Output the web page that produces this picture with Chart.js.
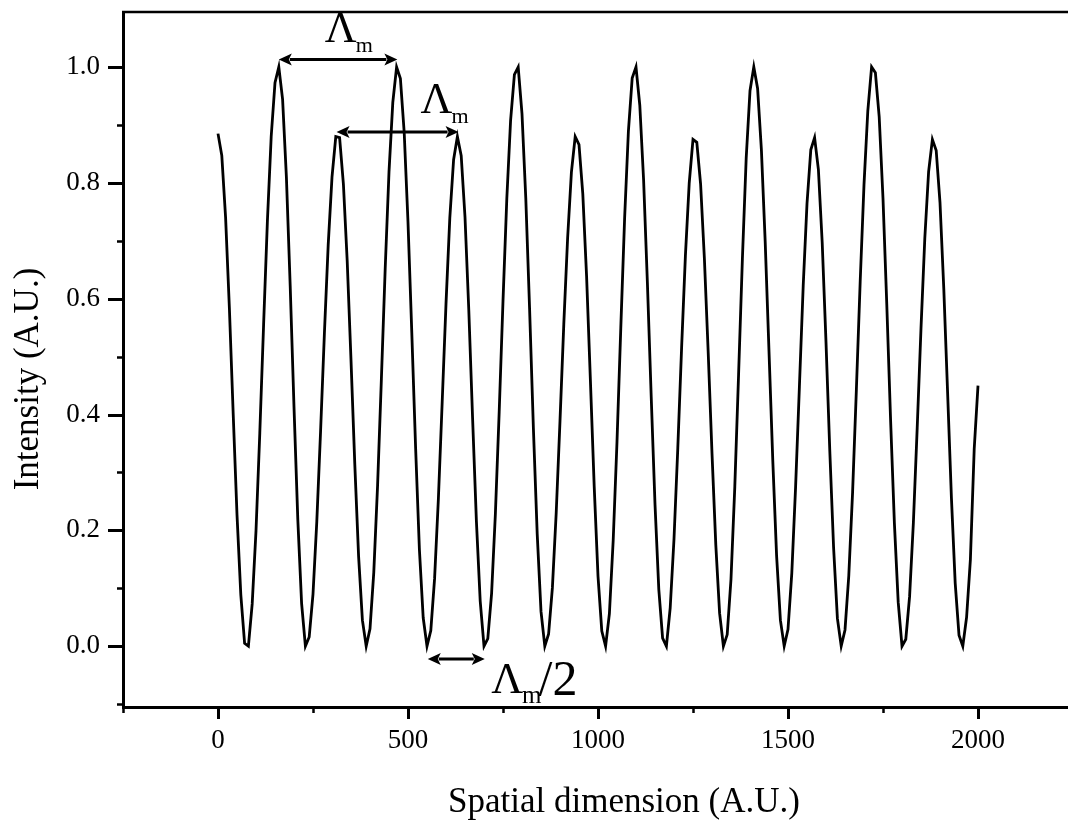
<!DOCTYPE html>
<html><head><meta charset="utf-8">
<script src="https://cdn.jsdelivr.net/npm/chart.js@4.4.1/dist/chart.umd.min.js"></script>
<style>
html,body{margin:0;padding:0;background:#fff;overflow:hidden;width:1068px;height:824px;}
canvas{display:block;}
</style></head><body>
<canvas id="c" width="1080" height="824" style="width:1080px;height:824px"></canvas>
<script>
// ---- data ----
const positions = [
0,10,20,30,40,50,60,70,80,90,100,110,120,130,140,150,160,170,180,190,
200,210,220,230,240,250,260,270,280,290,300,310,320,330,340,350,360,370,380,390,
400,410,420,430,440,450,460,470,480,490,500,510,520,530,540,550,560,570,580,590,
600,610,620,630,640,650,660,670,680,690,700,710,720,730,740,750,760,770,780,790,
800,810,820,830,840,850,860,870,880,890,900,910,920,930,940,950,960,970,980,990,
1000,1010,1020,1030,1040,1050,1060,1070,1080,1090,1100,1110,1120,1130,1140,1150,1160,1170,1180,1190,
1200,1210,1220,1230,1240,1250,1260,1270,1280,1290,1300,1310,1320,1330,1340,1350,1360,1370,1380,1390,
1400,1410,1420,1430,1440,1450,1460,1470,1480,1490,1500,1510,1520,1530,1540,1550,1560,1570,1580,1590,
1600,1610,1620,1630,1640,1650,1660,1670,1680,1690,1700,1710,1720,1730,1740,1750,1760,1770,1780,1790,
1800,1810,1820,1830,1840,1850,1860,1870,1880,1890,1900,1910,1920,1930,1940,1950,1960,1970,1980,1990,
2000];
const intensity = [
0.885,0.847,0.740,0.583,0.401,0.227,0.089,0.005,0.000,0.073,0.199,0.368,0.555,0.734,0.880,0.973,1.000,0.944,0.810,0.622,
0.413,0.219,0.074,0.000,0.016,0.090,0.215,0.372,0.540,0.693,0.810,0.880,0.878,0.798,0.665,0.494,0.314,0.155,0.045,0.000,
0.030,0.128,0.278,0.462,0.652,0.819,0.939,1.000,0.980,0.887,0.732,0.541,0.343,0.167,0.049,0.000,0.027,0.117,0.255,0.422,
0.591,0.739,0.840,0.880,0.847,0.741,0.580,0.393,0.216,0.078,0.000,0.013,0.091,0.229,0.405,0.596,0.772,0.908,0.987,1.000,
0.919,0.773,0.582,0.376,0.194,0.060,0.000,0.021,0.101,0.230,0.389,0.556,0.704,0.818,0.880,0.866,0.781,0.638,0.459,0.276,
0.121,0.026,0.000,0.056,0.183,0.353,0.550,0.738,0.889,0.981,1.000,0.934,0.805,0.627,0.431,0.245,0.098,0.014,0.000,0.066,
0.185,0.342,0.515,0.674,0.799,0.875,0.870,0.798,0.669,0.507,0.333,0.175,0.057,0.000,0.020,0.116,0.275,0.470,0.669,0.843,
0.959,1.000,0.963,0.857,0.698,0.509,0.320,0.156,0.045,0.000,0.029,0.126,0.275,0.448,0.622,0.764,0.857,0.878,0.823,0.697,
0.525,0.337,0.170,0.048,0.000,0.028,0.122,0.266,0.444,0.630,0.797,0.924,1.000,0.990,0.914,0.773,0.589,0.390,0.212,0.076,
0.000,0.012,0.086,0.214,0.377,0.549,0.704,0.819,0.875,0.856,0.766,0.617,0.438,0.257,0.109,0.019,0.000,0.050,0.150,0.340,
0.450];
const xTickValues = [0, 500, 1000, 1500, 2000];
const xMinorTickValues = [-250, 250, 750, 1250, 1750, 2250];
const yTickValues = [0.0, 0.2, 0.4, 0.6, 0.8, 1.0];
const yMinorTickValues = [-0.1, 0.1, 0.3, 0.5, 0.7, 0.9];

// ---- annotations (data coordinates) ----
const arrowMarks = [
  {x1: 160, x2: 472, y: 1.013},
  {x1: 312, x2: 633, y: 0.888},
  {x1: 552, x2: 702, y: -0.022}
];
const labelMarks = [
  {x: 281, y: 1.043, size: 44, sub: 22, tail: '', tailSize: 44},
  {x: 533, y: 0.921, size: 44, sub: 22, tail: '', tailSize: 44},
  {x: 719, y: -0.081, size: 44, sub: 25, tail: '/2', tailSize: 50}
];

const SERIF = '"Liberation Serif","Times New Roman",Times,serif';

const framePlugin = {
  id: 'frame',
  afterDraw(chart) {
    const {ctx, chartArea: a, scales: {x, y}} = chart;
    ctx.save();
    ctx.strokeStyle = '#000';
    ctx.fillStyle = '#000';
    ctx.lineCap = 'butt';
    // frame
    ctx.lineWidth = 3;
    ctx.beginPath();
    ctx.moveTo(a.left + 0.5, a.top - 1); ctx.lineTo(a.left + 0.5, a.bottom + 1.5);
    ctx.moveTo(a.left - 1, a.bottom + 0.5); ctx.lineTo(a.right + 2, a.bottom + 0.5);
    ctx.stroke();
    ctx.lineWidth = 2.5;
    ctx.beginPath();
    ctx.moveTo(a.left - 1, a.top); ctx.lineTo(a.right, a.top);
    ctx.moveTo(a.right, a.top); ctx.lineTo(a.right, a.bottom);
    ctx.stroke();
    // ticks
    ctx.lineWidth = 3;
    ctx.beginPath();
    yTickValues.forEach(v => { const p = Math.round(y.getPixelForValue(v)) + 0.5; ctx.moveTo(a.left, p); ctx.lineTo(a.left - 15, p); });
    xTickValues.forEach(v => { const p = Math.round(x.getPixelForValue(v)) + 0.5; ctx.moveTo(p, a.bottom); ctx.lineTo(p, a.bottom + 12); });
    ctx.stroke();
    ctx.lineWidth = 2.5;
    ctx.beginPath();
    yMinorTickValues.forEach(v => { const p = Math.round(y.getPixelForValue(v)) + 0.5; ctx.moveTo(a.left, p); ctx.lineTo(a.left - 6, p); });
    xMinorTickValues.forEach(v => { const p = Math.round(x.getPixelForValue(v)) + 0.5; ctx.moveTo(p, a.bottom); ctx.lineTo(p, a.bottom + 6); });
    ctx.stroke();

    // arrows
    arrowMarks.forEach(m => {
      const px1 = x.getPixelForValue(m.x1), px2 = x.getPixelForValue(m.x2), py = y.getPixelForValue(m.y);
      const hl = 13, hw = 6;
      ctx.lineWidth = 3;
      ctx.beginPath(); ctx.moveTo(px1 + hl - 2, py); ctx.lineTo(px2 - hl + 2, py); ctx.stroke();
      ctx.beginPath(); ctx.moveTo(px1, py); ctx.lineTo(px1 + hl, py - hw); ctx.lineTo(px1 + hl - 3, py); ctx.lineTo(px1 + hl, py + hw); ctx.closePath(); ctx.fill();
      ctx.beginPath(); ctx.moveTo(px2, py); ctx.lineTo(px2 - hl, py - hw); ctx.lineTo(px2 - hl + 3, py); ctx.lineTo(px2 - hl, py + hw); ctx.closePath(); ctx.fill();
    });
    // labels
    ctx.textBaseline = 'alphabetic';
    ctx.textAlign = 'left';
    labelMarks.forEach(m => {
      let px = x.getPixelForValue(m.x); const py = y.getPixelForValue(m.y);
      ctx.font = m.size + 'px ' + SERIF;
      ctx.fillText('\u039B', px, py);
      px += ctx.measureText('\u039B').width - 1;
      ctx.font = m.sub + 'px ' + SERIF;
      ctx.fillText('m', px, py + 10);
      px += ctx.measureText('m').width;
      if (m.tail) { ctx.font = m.tailSize + 'px ' + SERIF; ctx.fillText(m.tail, px - 3, py + 2); }
    });

    // axis titles
    ctx.font = '35px ' + SERIF;
    ctx.textAlign = 'center';
    ctx.textBaseline = 'alphabetic';
    ctx.fillText('Spatial dimension (A.U.)', 624, 812);
    ctx.save();
    ctx.translate(38, 379);
    ctx.rotate(-Math.PI / 2);
    ctx.fillText('Intensity (A.U.)', 0, 0);
    ctx.restore();
    ctx.restore();
  }
};

new Chart(document.getElementById('c'), {
  type: 'scatter',
  data: {
    datasets: [{
      data: positions.map((p, i) => ({x: p, y: intensity[i]})),
      showLine: true,
      borderColor: '#000',
      borderWidth: 2.8,
      pointRadius: 0,
      tension: 0,
      fill: false
    }]
  },
  options: {
    responsive: false,
    animation: false,
    devicePixelRatio: 1,
    layout: {padding: {top: 12, right: 7, left: 0, bottom: 0}},
    plugins: {legend: {display: false}, tooltip: {enabled: false}},
    scales: {
      x: {
        type: 'linear', min: -250, max: 2250,
        grid: {display: false, drawTicks: false},
        border: {display: false},
        afterBuildTicks: s => { s.ticks = xTickValues.map(v => ({value: v})); },
        afterFit: s => { s.height = 117; s.paddingLeft = 0; s.paddingRight = 0; s.paddingTop = 0; s.paddingBottom = 0; },
        ticks: {
          color: '#000', padding: 18, maxRotation: 0, autoSkip: false,
          font: {family: SERIF, size: 27},
          callback: v => String(v)
        }
      },
      y: {
        type: 'linear', min: -0.105, max: 1.095,
        grid: {display: false, drawTicks: false},
        border: {display: false},
        afterBuildTicks: s => { s.ticks = yTickValues.map(v => ({value: v})); },
        afterFit: s => { s.width = 123; s.paddingLeft = 0; s.paddingRight = 0; s.paddingTop = 0; s.paddingBottom = 0; },
        ticks: {
          color: '#000', padding: 23, autoSkip: false,
          font: {family: SERIF, size: 27},
          callback: v => Number(v).toFixed(1)
        }
      }
    }
  },
  plugins: [framePlugin]
});
</script>
</body></html>
